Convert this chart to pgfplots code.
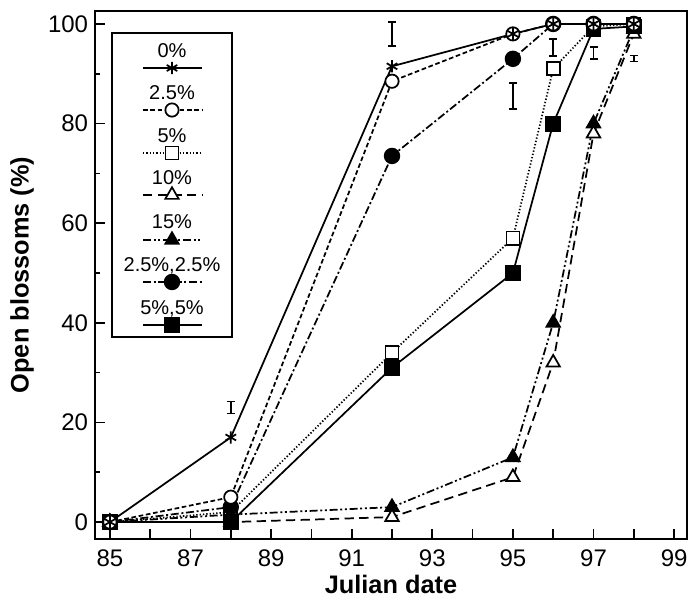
\documentclass[border=0pt]{standalone}
\usepackage{pgfplots}
\pgfplotsset{compat=1.18}
\usepackage{fontspec}
\setmainfont{Liberation Sans}
\begin{document}
\begin{tikzpicture}
\tikzset{
  s0/.style={black, line width=1.3pt, solid, mark=asterisk, mark size=4.6pt, mark options={solid, line width=1.3pt}},
  s25/.style={black, line width=1.3pt, dash pattern=on 3.5pt off 2pt, mark=*, mark size=5pt, mark options={solid, fill=white, line width=1.3pt}},
  s5/.style={black, line width=1.3pt, dash pattern=on 1pt off 1.5pt, mark=square*, mark size=4.9pt, mark options={solid, fill=white, line width=1.3pt}},
  s10/.style={black, line width=1.3pt, dash pattern=on 7pt off 4pt, mark=triangle*, mark size=5.8pt, mark options={solid, fill=white, line width=1.3pt}},
  s15/.style={black, line width=1.3pt, dash pattern=on 6pt off 2pt on 1.5pt off 2pt on 1.5pt off 2pt, mark=triangle*, mark size=5.8pt, mark options={solid, fill=black}},
  s2525/.style={black, line width=1.3pt, dash pattern=on 6pt off 2pt on 1.5pt off 2pt, mark=*, mark size=5.5pt, mark options={solid, fill=black}},
  s55/.style={black, line width=1.3pt, solid, mark=square*, mark size=5.3pt, mark options={solid, fill=black}},
}
\begin{axis}[
  name=main,
  at={(0,0)}, anchor=south west,
  scale only axis,
  width=444pt, height=396pt,
  xmin=84.63, xmax=99.32,
  ymin=-3.4, ymax=102.6,
  xtick={85,...,99},
  xticklabels={85,,87,,89,,91,,93,,95,,97,,99},
  ytick={0,20,...,100},
  minor ytick={10,30,...,90},
  xtick pos=left, ytick pos=left,
  tick align=inside,
  major tick length=7.5pt,
  minor tick length=4pt,
  every tick/.style={black, line width=1.3pt},
  axis line style={line width=2pt},
  tick label style={font=\fontsize{18pt}{20pt}\selectfont},
  yticklabel style={anchor=east, inner sep=0pt, xshift=-5pt},
  xticklabel style={anchor=north, inner sep=0pt, yshift=-7.5pt},
  /pgf/number format/assume math mode=true,
  xlabel={\textbf{Julian date}},
  ylabel={\textbf{Open blossoms (\%)}},
  label style={font=\fontsize{19pt}{22pt}\selectfont},
  xlabel style={at={(axis description cs:0.5,-0.0852)}, anchor=center, inner sep=0pt},
  ylabel style={at={(axis description cs:-0.1233,0.5)}, anchor=center, inner sep=0pt},
  clip=false,
]
% error bars
\addplot[draw=none, no markers, forget plot,
  error bars/.cd, y dir=both, y explicit,
  error bar style={draw=black, solid, line width=1.2pt},
  error mark options={draw=black, solid, line width=1.2pt, mark size=3pt, rotate=90}]
  coordinates {
  (88,23) +- (0,1.2)
  (92,98) +- (0,2.4)
  (95,85.5) +- (0,2.6)
  (96,95.3) +- (0,1.7)
  (97,94.2) +- (0,1.2)
  (98,93.1) +- (0,0.6)
};
\addplot[s15] coordinates {(85,0)(88,1.5)(92,3)(95,13)(96,40)(97,80)(98,99)};
\addplot[s10] coordinates {(85,0)(88,0)(92,1)(95,9)(96,32)(97,78)(98,98)};
\addplot[s5] coordinates {(85,0)(88,2)(92,34)(95,57)(96,91)(97,99.5)(98,100)};
\addplot[s55] coordinates {(85,0)(88,0)(92,31)(95,50)(96,80)(97,99)(98,99.5)};
\addplot[s2525] coordinates {(85,0)(88,3)(92,73.5)(95,93)(96,100)(97,100)(98,100)};
\addplot[s25] coordinates {(85,0)(88,5)(92,88.5)(95,98)(96,100)(97,100)(98,100)};
\addplot[s0] coordinates {(85,0)(88,17)(92,91.5)(95,98)(96,100)(97,100)(98,100)};
\end{axis}
% legend box
\begin{axis}[
  at={(12.75pt,151.5pt)}, anchor=south west,
  scale only axis,
  width=90pt, height=228pt,
  xmin=0, xmax=120, ymin=0, ymax=304,
  y dir=reverse,
  xtick=\empty, ytick=\empty,
  axis line style={line width=1.3pt},
  clip=false,
]
\addplot[s0, mark repeat=2, mark phase=2] coordinates {(31,35)(60,35)(90,35)};
\addplot[s25, mark repeat=2, mark phase=2] coordinates {(31,77)(60,77)(90,77)};
\addplot[s5, mark repeat=2, mark phase=2] coordinates {(31,120)(60,120)(90,120)};
\addplot[s10, mark repeat=2, mark phase=2] coordinates {(31,162)(60,162)(90,162)};
\addplot[s15, mark repeat=2, mark phase=2] coordinates {(31,207)(60,207)(90,207)};
\addplot[s2525, mark repeat=2, mark phase=2] coordinates {(31,249)(60,249)(90,249)};
\addplot[s55, mark repeat=2, mark phase=2] coordinates {(31,292)(60,292)(90,292)};
\begin{scope}[every node/.style={anchor=base, inner sep=0pt, font=\fontsize{15pt}{17pt}\selectfont}]
\node at (axis cs:60,24) {0\%};
\node at (axis cs:60,66) {2.5\%};
\node at (axis cs:60,109) {5\%};
\node at (axis cs:60,151) {10\%};
\node at (axis cs:60,195) {15\%};
\node at (axis cs:60,238) {2.5\%,2.5\%};
\node at (axis cs:60,281) {5\%,5\%};
\end{scope}
\end{axis}
\pgfresetboundingbox
\path (-71.25pt,-46.5pt) rectangle (445.5pt,404.25pt);
\end{tikzpicture}
\end{document}
